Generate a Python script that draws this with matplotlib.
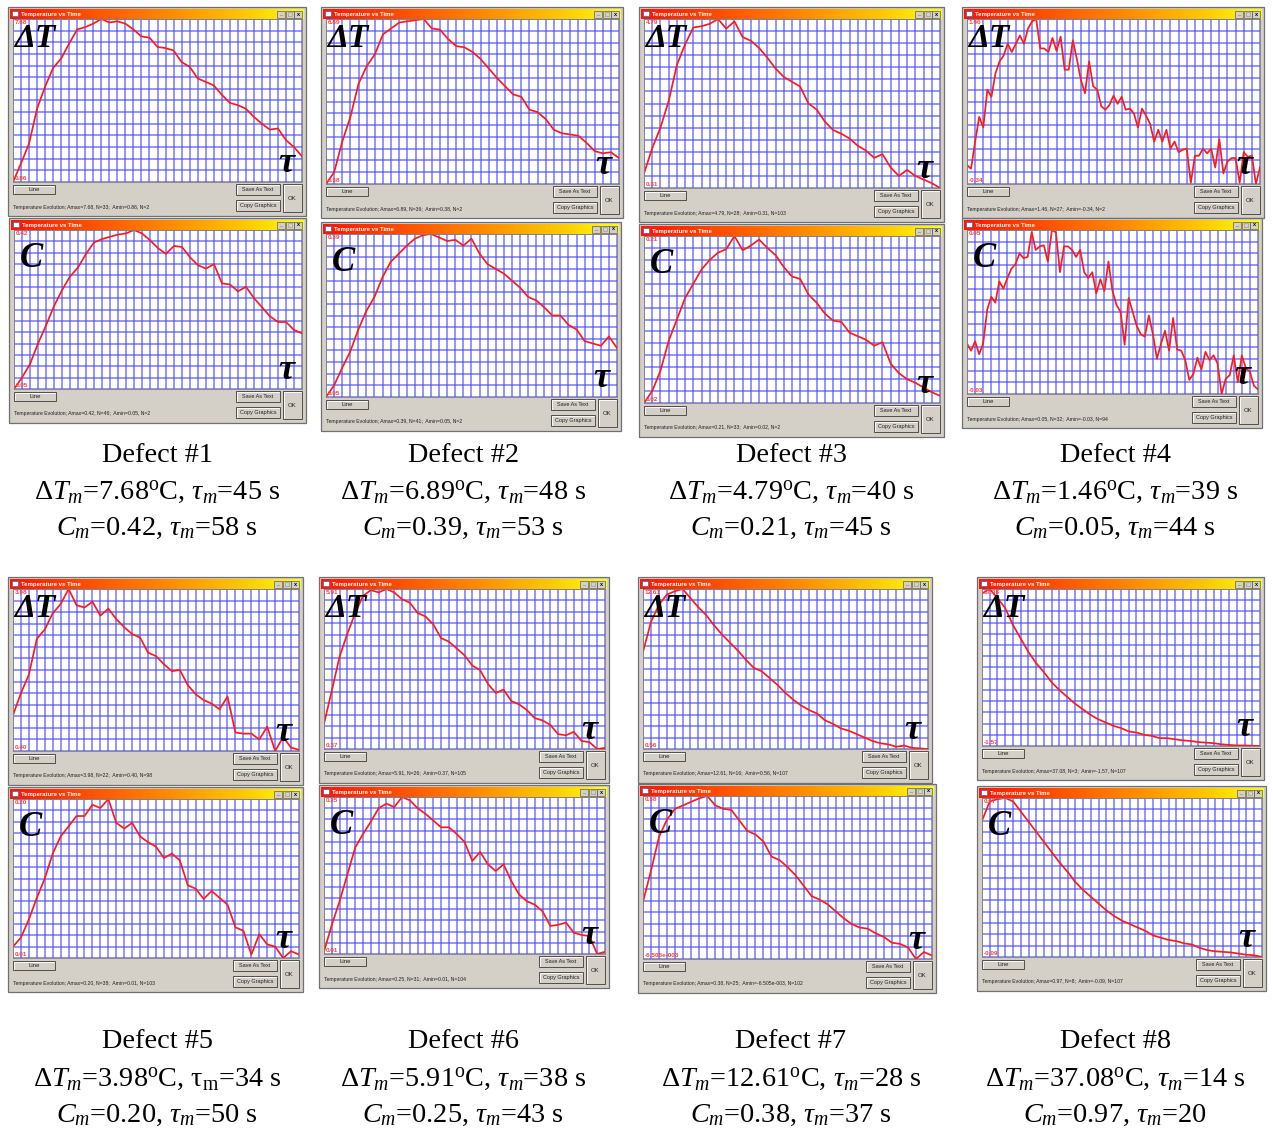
import numpy as np
import matplotlib
matplotlib.use('Agg')
import matplotlib.pyplot as plt
from matplotlib.patches import Rectangle
from matplotlib.colors import LinearSegmentedColormap

plt.rcParams['mathtext.fontset'] = 'custom'
plt.rcParams['mathtext.rm'] = 'Liberation Serif'
plt.rcParams['mathtext.it'] = 'Liberation Serif:italic'
plt.rcParams['mathtext.bf'] = 'Liberation Serif:bold'

# curve readings in grid rows: 0 = Amin (bottom edge), 14 = Amax (top edge)
d1_dt = [0.0, 1.6, 3.3, 6.3, 8.2, 9.8, 10.6, 11.9, 13.1, 13.3, 13.6, 14.0, 13.7, 13.8, 13.6, 13.1, 12.5, 12.4, 11.6,
         11.5, 11.3, 10.3, 9.9, 8.9, 8.6, 8.3, 7.5, 6.8, 6.6, 6.3, 5.6, 5.0, 4.5, 4.6, 3.6, 3.0, 2.2]
d1_c = [0.0, 1.0, 2.2, 4.0, 5.6, 7.3, 8.7, 9.9, 10.7, 11.9, 12.9, 13.2, 13.4, 13.6, 13.7, 14.0, 13.7, 13.1, 12.4,
        11.9, 12.6, 12.5, 11.6, 10.9, 10.6, 11.0, 9.3, 9.2, 8.6, 9.0, 8.0, 7.2, 6.4, 5.9, 5.9, 5.2, 4.9]
d2_dt = [0.0, 1.0, 3.6, 5.7, 8.5, 10.0, 11.0, 12.7, 13.2, 13.7, 13.8, 13.9, 14.0, 13.2, 13.1, 12.3, 11.7, 11.6, 11.2,
         10.6, 9.8, 9.0, 8.3, 7.6, 7.4, 6.3, 6.1, 5.5, 4.6, 4.3, 4.2, 4.1, 3.5, 2.8, 2.6, 2.7, 2.2]
d2_c = [0.0, 1.0, 2.5, 3.9, 5.8, 7.4, 8.6, 10.3, 11.6, 12.3, 13.0, 13.6, 13.9, 14.0, 13.7, 13.4, 13.5, 13.0, 13.6,
        12.3, 11.4, 11.0, 10.6, 10.0, 9.4, 8.6, 8.3, 7.7, 7.0, 7.0, 6.2, 5.8, 4.8, 4.6, 4.4, 5.2, 4.2]
d3_dt = [1.2, 3.3, 5.0, 7.2, 10.2, 11.9, 13.3, 13.4, 13.6, 14.0, 13.2, 13.8, 12.5, 12.2, 11.6, 10.8, 9.9, 9.2, 8.8,
         8.4, 7.0, 6.5, 5.5, 4.8, 4.5, 4.1, 3.5, 3.1, 2.5, 2.8, 1.7, 1.0, 1.5, 1.0, 0.7, 0.4, 0.0]
d3_c = [0.0, 1.0, 2.7, 5.2, 7.0, 8.8, 10.0, 11.2, 12.0, 12.6, 12.9, 14.0, 12.8, 13.2, 13.7, 13.0, 12.4, 11.4, 10.6,
        10.4, 9.1, 8.4, 7.5, 6.9, 6.8, 5.9, 5.6, 5.3, 4.8, 5.1, 3.3, 2.5, 2.0, 1.7, 1.3, 0.9, 0.6]
d4_dt = [1.6, 1.3, 3.6, 5.7, 4.8, 8.0, 7.4, 9.4, 10.4, 10.9, 11.9, 11.2, 11.9, 12.6, 11.9, 13.2, 13.8, 14.0, 11.5,
         11.5, 11.2, 12.4, 11.3, 12.5, 9.7, 9.7, 12.2, 10.6, 8.8, 7.7, 10.4, 8.3, 8.0, 6.6, 6.3, 6.7, 7.5, 6.8, 7.4,
         6.3, 6.4, 6.0, 4.8, 6.4, 5.8, 5.1, 3.6, 4.6, 3.6, 4.6, 3.0, 3.6, 2.7, 2.9, 3.0, 0.1, 2.4, 2.4, 3.0, 2.6,
         3.0, 1.4, 3.8, 0.9, 1.9, 2.2, 2.2, 0.1, 2.7, 2.3, 2.4, 0.0, 1.4]
d4_c = [4.3, 3.7, 4.5, 3.4, 4.3, 7.2, 8.3, 7.8, 9.6, 9.0, 9.9, 10.7, 11.1, 12.0, 11.6, 11.7, 13.8, 12.3, 12.6, 12.7,
        11.3, 14.0, 13.8, 10.4, 12.6, 12.6, 12.3, 11.7, 12.3, 10.4, 9.9, 10.4, 8.6, 9.8, 8.8, 11.3, 8.8, 7.6, 7.0,
        4.2, 8.2, 7.0, 5.8, 5.1, 4.9, 6.7, 5.1, 3.0, 4.3, 5.4, 3.7, 6.5, 3.8, 3.7, 2.9, 1.2, 1.7, 3.1, 2.1, 3.6,
        2.9, 3.3, 2.6, 0.0, 1.3, 1.6, 3.3, 1.0, 3.3, 2.2, 1.9, 0.7, 0.4]
d5_dt = [3.1, 5.0, 6.6, 9.7, 10.5, 11.9, 12.7, 14.0, 12.6, 12.4, 12.9, 11.7, 12.3, 11.4, 10.7, 10.1, 9.8, 8.5, 8.2,
         7.5, 6.9, 7.0, 5.7, 4.9, 4.4, 4.1, 3.6, 4.7, 1.6, 1.5, 1.5, 1.0, 2.1, 0.0, 1.2, 0.3, 0.1]
d5_c = [1.0, 1.8, 3.4, 5.3, 7.0, 9.2, 10.7, 11.6, 12.5, 12.5, 13.5, 13.2, 14.0, 11.9, 11.4, 11.9, 10.7, 10.2, 9.8,
        8.8, 9.2, 8.6, 6.4, 6.1, 5.2, 5.9, 5.3, 4.7, 2.7, 2.4, 0.3, 2.1, 1.2, 1.0, 0.0, 0.6, 0.3]
d6_dt = [2.2, 5.1, 8.1, 10.1, 11.9, 13.4, 13.9, 13.7, 14.0, 13.7, 13.1, 12.8, 11.9, 11.6, 10.9, 9.7, 9.4, 8.8, 8.2,
         7.3, 6.9, 5.7, 4.9, 5.2, 4.2, 3.9, 3.4, 2.7, 2.5, 2.1, 1.3, 1.2, 1.5, 0.7, 0.6, 0.0, 0.1]
d6_c = [0.2, 2.6, 4.7, 7.1, 9.5, 10.7, 11.8, 13.0, 13.4, 13.1, 14.0, 13.7, 13.0, 12.5, 11.9, 11.3, 11.3, 10.7, 10.0,
        8.3, 9.1, 8.0, 7.4, 8.0, 6.5, 5.3, 4.7, 4.4, 3.8, 2.5, 2.6, 2.8, 1.9, 1.7, 1.6, 0.0, 0.2]
d7_dt = [8.5, 11.1, 12.6, 13.5, 13.8, 14.0, 13.2, 12.4, 11.7, 10.8, 10.0, 9.3, 8.6, 7.8, 7.1, 6.8, 6.2, 5.6, 4.9,
         4.3, 3.8, 3.4, 3.1, 2.5, 2.2, 1.8, 1.6, 1.3, 1.0, 0.7, 0.5, 0.4, 0.2, 0.3, 0.1, 0.05, 0.0]
d7_c = [4.9, 7.6, 10.5, 12.0, 12.9, 13.2, 13.5, 13.8, 14.0, 13.2, 12.9, 12.8, 11.9, 11.0, 10.7, 10.1, 8.8, 8.5, 7.9,
        7.2, 6.3, 5.4, 5.1, 4.7, 4.1, 3.5, 3.0, 2.7, 2.6, 2.2, 1.9, 1.4, 1.3, 1.0, 0.0, 0.6, 0.3]
d8_dt = [13.6, 14.0, 13.2, 12.3, 10.8, 9.6, 8.4, 7.4, 6.6, 5.7, 5.0, 4.4, 3.8, 3.3, 2.8, 2.4, 2.1, 1.8, 1.6, 1.3,
         1.2, 1.0, 0.9, 0.7, 0.7, 0.6, 0.5, 0.45, 0.35, 0.3, 0.25, 0.15, 0.1, 0.05, 0.05, 0.02, 0.0]
d8_c = [12.0, 13.7, 13.9, 14.0, 13.7, 12.8, 11.9, 11.0, 10.1, 9.2, 8.3, 7.5, 6.6, 5.9, 5.3, 4.7, 4.1, 3.6, 3.2, 2.9,
        2.6, 2.3, 1.9, 1.7, 1.5, 1.4, 1.2, 1.1, 0.8, 0.6, 0.5, 0.45, 0.4, 0.3, 0.2, 0.15, 0.0]

dt_curves = [d1_dt, d2_dt, d3_dt, d4_dt, d5_dt, d6_dt, d7_dt, d8_dt]
c_curves = [d1_c, d2_c, d3_c, d4_c, d5_c, d6_c, d7_c, d8_c]

dt_amax = ['7.68', '6.89', '4.79', '1.46', '3.98', '5.91', '12.61', '37.08']
dt_nmax = [33, 36, 28, 27, 22, 26, 16, 3]
dt_amin = ['0.86', '0.38', '0.31', '-0.34', '0.40', '0.37', '0.56', '-1.57']
dt_nmin = [2, 2, 103, 2, 98, 105, 107, 107]
c_amax = ['0.42', '0.39', '0.21', '0.05', '0.20', '0.25', '0.38', '0.97']
c_nmax = [46, 41, 33, 32, 38, 31, 25, 8]
c_amin = ['0.05', '0.05', '0.02', '-0.03', '0.01', '0.01', '-6.505e-003', '-0.09']
c_nmin = [2, 2, 2, 94, 103, 104, 102, 107]

defects = ['Defect #1', 'Defect #2', 'Defect #3', 'Defect #4',
           'Defect #5', 'Defect #6', 'Defect #7', 'Defect #8']
dt_tau = ['45 s', '48 s', '40 s', '39 s', '34 s', '38 s', '28 s', '14 s']
c_tau = ['58 s', '53 s', '45 s', '44 s', '50 s', '43 s', '37 s', '20']
n_samples = 107

# window rectangles in pixels (left, top, right, bottom): dT window then C window
dt_rects = [(8, 7, 306, 216), (321, 7, 623, 218), (639, 7, 944, 222), (962, 7, 1264, 218),
            (8, 577, 303, 785), (319, 577, 609, 783), (638, 577, 932, 783), (977, 577, 1264, 780)]
c_rects = [(9, 218, 306, 423), (321, 222, 621, 431), (639, 224, 944, 437), (962, 218, 1262, 428),
           (8, 787, 303, 992), (319, 785, 609, 988), (638, 784, 936, 993), (977, 786, 1266, 991)]
cap_x = [157, 463, 791, 1115]
cap_y = [[456, 492, 528], [1042, 1079, 1115]]

W, H = 1273, 1133
fig = plt.figure(figsize=(W / 100, H / 100), dpi=100)
fig.patch.set_facecolor('white')

bg = fig.add_axes([0, 0, 1, 1], zorder=0)
top = fig.add_axes([0, 0, 1, 1], zorder=5)
bg.patch.set_visible(False)
top.patch.set_visible(False)

title_cmap = LinearSegmentedColormap.from_list(
    'bar', [(0, '#ff1500'), (0.55, '#ff8c00'), (0.8, '#ffc800'), (1, '#ffff10')])
grad = np.linspace(0, 1, 256)[None, :]
SANS = 'Liberation Sans'
SERIF = 'Liberation Serif'


def px_rect(x0, y0, x1, y1):
    return [x0 / W, 1 - y1 / H, (x1 - x0) / W, (y1 - y0) / H]


def button(x, y, w, h, label, fs=4.3):
    bg.add_patch(Rectangle((x, y), w, h, facecolor='#d4d0c8', edgecolor='#3a3a3a', lw=0.6, zorder=3))
    bg.plot([x + 0.7, x + 0.7, x + w - 1], [y + h - 1, y + 0.7, y + 0.7], color='white', lw=0.6, zorder=4)
    bg.text(x + w / 2, y + h / 2 + 0.3, label, fontsize=fs, ha='center', va='center',
            color='#202020', family=SANS, zorder=5)


def window(rect, vals, amax, nmax, amin, nmin, sym):
    x0, y0, x1, y1 = rect
    bg.add_patch(Rectangle((x0, y0), x1 - x0, y1 - y0, facecolor='#d4d0c8',
                           edgecolor='#707070', lw=0.9, zorder=1))
    bg.imshow(grad, cmap=title_cmap, extent=(x0 + 2, x1 - 2, y0 + 12, y0 + 2),
              aspect='auto', interpolation='bilinear', zorder=2)
    bg.add_patch(Rectangle((x0 + 4, y0 + 4), 6, 5, facecolor='white', edgecolor='#4060b0', lw=0.5, zorder=3))
    bg.text(x0 + 13, y0 + 7.3, 'Temperature vs Time', color='white', fontsize=4.3,
            weight='bold', va='center', family=SANS, zorder=5)
    for k, g in enumerate(['_', '', 'x']):
        bx = x1 - 29 + k * 8.5
        bg.add_patch(Rectangle((bx, y0 + 3.5), 8, 7, facecolor='#d4d0c8', edgecolor='#404040',
                               lw=0.4, zorder=3))
        if g:
            bg.text(bx + 4, y0 + 7, g, fontsize=4, ha='center', va='center', weight='bold',
                    color='black', family=SANS, zorder=5)
        else:
            bg.add_patch(Rectangle((bx + 2, y0 + 5), 4, 4, facecolor='none', edgecolor='#909090',
                                   lw=0.4, zorder=4))

    px0, py0, px1, py1 = x0 + 5, y0 + 12, x1 - 4, y1 - 34
    bg.add_patch(Rectangle((px0, py0), px1 - px0, py1 - py0, facecolor='white',
                           edgecolor='none', zorder=3))
    lo, hi = float(amin), float(amax)
    ax = fig.add_axes(px_rect(px0, py0, px1, py1), zorder=2)
    ax.patch.set_facecolor('white')
    xs = np.linspace(0, n_samples, len(vals))
    ys = lo + np.array(vals) / 14.0 * (hi - lo)
    ax.plot(xs, ys, color='#ff1a1a', lw=1.25, solid_joinstyle='round')
    ax.set_xlim(0, n_samples)
    ax.set_ylim(lo, hi)
    ax.set_xticks(np.linspace(0, n_samples, 37))
    ax.set_yticks(np.linspace(lo, hi, 15))
    ax.grid(True, color='#4a4aff', lw=1.1, alpha=0.75)
    ax.tick_params(length=0, labelbottom=False, labelleft=False)
    for s in ax.spines.values():
        s.set_color('#808080')
        s.set_linewidth(0.6)

    top.text(px0 + 2, py0 + 1, amax, color='#ff4040', fontsize=4.6, weight='bold',
             va='top', ha='left', family=SANS)
    top.text(px0 + 2, py1 - 1, amin, color='#ff4040', fontsize=4.6, weight='bold',
             va='bottom', ha='left', family=SANS)
    if sym == 'C':
        top.text(x0 + 11, y0 + 49, 'C', fontsize=25, family=SERIF, style='italic',
                 weight='bold', va='baseline', ha='left')
    else:
        top.text(px0 + 1, y0 + 40, 'ΔT', fontsize=24, family=SERIF, style='italic',
                 weight='bold', va='baseline', ha='left')
    top.text(x1 - 20, py1 - 10, 'τ', fontsize=26, family=SERIF, style='italic',
             weight='bold', va='baseline', ha='center')

    button(x0 + 5, y1 - 31, 42, 9, 'Line')
    button(x1 - 70, y1 - 32, 44, 11, 'Save As Text', fs=4.0)
    button(x1 - 70, y1 - 16, 44, 11, 'Copy Graphics', fs=4.0)
    button(x1 - 23, y1 - 32, 19, 28, 'OK')
    bg.text(x0 + 5, y1 - 9, f'Temperature Evolution; Amax={amax}, N={nmax};  Amin={amin}, N={nmin}',
            fontsize=3.7, color='#202020', va='center', ha='left', family=SANS, zorder=5)


for i in range(8):
    window(dt_rects[i], dt_curves[i], dt_amax[i], dt_nmax[i], dt_amin[i], dt_nmin[i], 'dT')
    window(c_rects[i], c_curves[i], c_amax[i], c_nmax[i], c_amin[i], c_nmin[i], 'C')

    cx = cap_x[i % 4]
    ys = cap_y[i // 4]
    tau_sym = r'$\mathrm{\tau}_\mathrm{m}$' if i == 4 else r'$\tau_m$'
    line2 = r'$\mathit{\Delta T}_m$=' + dt_amax[i] + r'$^\mathrm{o}$C, ' + tau_sym + '=' + dt_tau[i]
    line3 = r'$C_m$=' + c_amax[i] + r', $\tau_m$=' + c_tau[i]
    for txt, yy in zip([defects[i], line2, line3], ys):
        top.text(cx, yy, txt, fontsize=20.3, family=SERIF, ha='center', va='center')

for a in (bg, top):
    a.set_xlim(0, W)
    a.set_ylim(H, 0)
    a.axis('off')

fig.savefig('out.png', dpi=100, facecolor='white')
